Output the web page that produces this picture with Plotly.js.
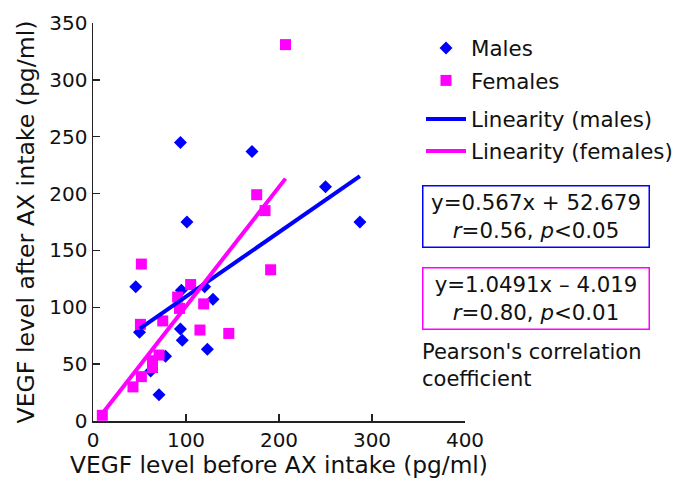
<!DOCTYPE html>
<html><head><meta charset="utf-8">
<script src="https://cdn.plot.ly/plotly-3.0.1.min.js"></script>
<style>html,body{margin:0;padding:0;background:#fff}#chart{width:679px;height:478px}</style>
</head><body><div id="chart"></div>
<script>
// Males
const maleX = [94, 171, 101, 46, 95, 120, 129, 50, 94, 96, 123, 78, 62, 71, 250, 287];
const maleY = [245, 237, 175, 118, 115, 118, 107, 78, 81, 71, 63, 57, 44, 23, 206, 175];
// Females
const femaleX = [207, 176, 185, 191, 52, 105, 91, 119, 93, 51, 75, 115, 146, 71, 64, 64, 52, 43, 10];
const femaleY = [331, 199, 185, 133, 138, 120, 109, 103, 99, 85, 88, 80, 77, 58, 53, 47, 39, 30, 5];
// regression lines
const maleSlope = 0.567, maleIntercept = 52.679;
const femaleSlope = 1.0491, femaleIntercept = -4.019;
const maleLineX = [50, 287];
const femaleLineX = [8, 207];
const xTicks = [0, 100, 200, 300, 400];
const yTicks = [0, 50, 100, 150, 200, 250, 300, 350];

const FONT = 'DejaVu Sans, Verdana, sans-serif';
const BLUE = '#0000ff', MAG = '#ff00ff';

const traces = [
  {x: maleX, y: maleY, type: 'scatter', mode: 'markers', name: 'Males',
   marker: {symbol: 'diamond', size: 10, color: BLUE}, legend: 'legend'},
  {x: femaleX, y: femaleY, type: 'scatter', mode: 'markers', name: 'Females',
   marker: {symbol: 'square', size: 11, color: MAG}, legend: 'legend2'},
  {x: maleLineX, y: maleLineX.map(v => maleSlope * v + maleIntercept), type: 'scatter', mode: 'lines',
   name: 'Linearity (males)', line: {color: BLUE, width: 4}, legend: 'legend3'},
  {x: femaleLineX, y: femaleLineX.map(v => femaleSlope * v + femaleIntercept), type: 'scatter', mode: 'lines',
   name: 'Linearity (females)', line: {color: MAG, width: 4}, legend: 'legend4'}
];

const W = 679, H = 478;
const plotL = 93, plotR = 465, plotT = 22.7, plotB = 421.5;
const px = v => (v - plotL) / (plotR - plotL);
const py = v => (plotB - v) / (plotB - plotT);

function leg(yPix) {
  return {x: 421 / W, y: 1 - yPix / H, xanchor: 'left', yanchor: 'middle', xref: 'container', yref: 'container',
    itemwidth: 40,
    font: {family: FONT, size: 21.4, color: '#111'}, bgcolor: 'rgba(0,0,0,0)', borderwidth: 0};
}

const layout = {
  width: W, height: H,
  margin: {l: plotL, r: W - plotR, t: plotT, b: H - plotB, autoexpand: false},
  paper_bgcolor: '#fff', plot_bgcolor: '#fff',
  font: {family: FONT, color: '#111'},
  showlegend: true,
  legend: leg(48), legend2: leg(80.5), legend3: leg(119), legend4: leg(151),
  xaxis: {range: [0, 400], tickvals: xTicks, ticks: 'inside', ticklen: 7, tickwidth: 1.5, tickcolor: '#222',
    showline: true, linecolor: '#222', linewidth: 1.5, showgrid: false, zeroline: false, automargin: false,
    tickfont: {family: FONT, size: 20, color: '#111'},
    title: {text: 'VEGF level before AX intake (pg/ml)', font: {family: FONT, size: 23.3, color: '#111'}, standoff: 5}},
  yaxis: {range: [0, 350], tickvals: yTicks, ticks: 'inside', ticklen: 7, tickwidth: 1.5, tickcolor: '#222',
    showline: true, linecolor: '#222', linewidth: 1.5, showgrid: false, zeroline: false, automargin: false,
    tickfont: {family: FONT, size: 20, color: '#111'},
    title: {text: 'VEGF level after AX intake (pg/ml)', font: {family: FONT, size: 23.6, color: '#111'}, standoff: 8}},
  annotations: [
    {xref: 'paper', yref: 'paper', x: px(535.5), y: py(217), xanchor: 'center', yanchor: 'middle',
     text: 'y=0.567x + 52.679<br><i>r</i>=0.56, <i>p</i>&lt;0.05', showarrow: false, align: 'center',
     width: 225, height: 60, borderpad: 0, bordercolor: BLUE, borderwidth: 1.5,
     font: {family: FONT, size: 21.3, color: '#111'}},
    {xref: 'paper', yref: 'paper', x: px(535.5), y: py(299), xanchor: 'center', yanchor: 'middle',
     text: 'y=1.0491x – 4.019<br><i>r</i>=0.80, <i>p</i>&lt;0.01', showarrow: false, align: 'center',
     width: 225, height: 60, borderpad: 0, bordercolor: MAG, borderwidth: 1.5,
     font: {family: FONT, size: 21.3, color: '#111'}},
    {xref: 'paper', yref: 'paper', x: px(420), y: py(366), xanchor: 'left', yanchor: 'middle',
     text: "Pearson's correlation<br>coefficient", showarrow: false, align: 'left',
     font: {family: FONT, size: 21, color: '#111'}}
  ]
};

Plotly.newPlot('chart', traces, layout, {displayModeBar: false, staticPlot: true});
</script></body></html>
